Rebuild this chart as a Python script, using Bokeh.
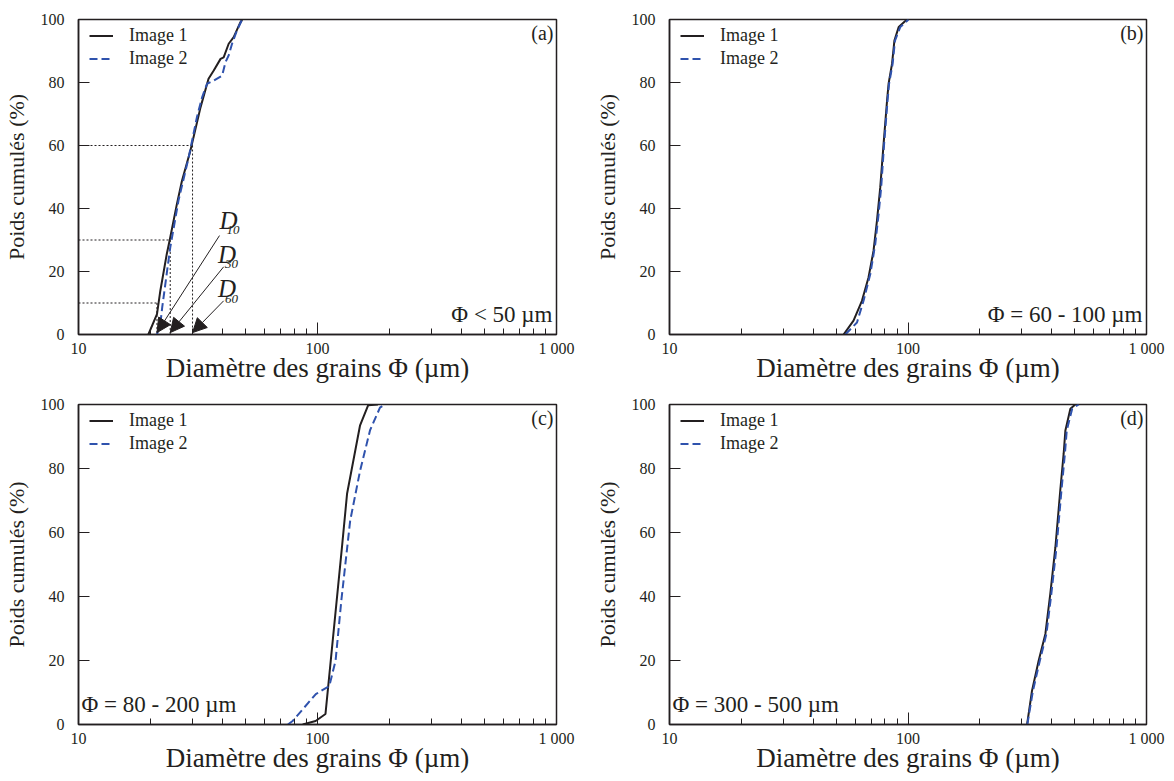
from bokeh.plotting import figure
from bokeh.layouts import column, row
from bokeh.models import FixedTicker, Legend, LegendItem, Label, Arrow, NormalHead
from bokeh.embed import file_html
from bokeh.resources import INLINE

# ---------------- data ----------------
# panel (a)  Phi < 50 um
a_img1_x = [19.6, 21.3, 22.0, 23.4, 24.2, 25.8, 27.1, 29.4, 32.4, 35.0, 36.8, 39.3, 40.5, 42.5, 44.6, 47.5, 48.4]
a_img1_y = [0.0, 6.5, 13.9, 25.5, 30.8, 41.4, 48.8, 58.4, 72.1, 81.2, 83.8, 87.5, 88.0, 92.3, 94.4, 99.0, 100.0]
a_img2_x = [21.3, 22.0, 22.4, 24.2, 26.2, 28.9, 31.3, 32.9, 34.5, 36.8, 39.9, 41.2, 42.5, 43.9, 46.0, 48.4]
a_img2_y = [0.0, 3.4, 8.6, 27.6, 42.5, 56.2, 69.0, 75.3, 79.6, 80.6, 82.2, 86.4, 88.6, 92.3, 96.5, 100.0]
# characteristic diameters D10, D30, D60
d_names = ["10", "30", "60"]
d_pct = [10, 30, 60]
d_diam = [21.3, 24.2, 30.0]
# annotation anchors for the D labels (data units)
d_label_x = [38.9, 38.3, 38.3]
d_label_y = [36.2, 25.4, 14.5]
d_arrow_x0 = [38.9, 40.5, 40.5]
d_arrow_y0 = [31.4, 21.5, 10.7]

# panel (b)  Phi = 60 - 100 um
b_img1_x = [53.7, 59.1, 64.1, 68.3, 71.7, 74.1, 76.5, 79.0, 81.7, 82.9, 85.7, 87.7, 91.4, 99.0]
b_img1_y = [0.0, 4.4, 10.7, 18.1, 26.6, 36.1, 46.7, 60.5, 74.3, 79.6, 85.9, 93.3, 97.6, 100.0]
b_img2_x = [54.6, 61.1, 65.1, 69.5, 72.9, 75.3, 77.2, 79.4, 82.1, 83.3, 86.2, 88.2, 92.8, 100.5]
b_img2_y = [0.0, 3.8, 10.7, 19.2, 28.7, 38.3, 46.7, 60.5, 74.3, 79.6, 85.9, 93.3, 97.6, 100.0]

# panel (c)  Phi = 80 - 200 um
c_img1_x = [86.7, 98.2, 108.0, 127.0, 133.0, 150.7, 163.0, 179.0]
c_img1_y = [0.0, 1.1, 3.3, 56.5, 72.2, 93.5, 99.8, 100.0]
c_img2_x = [75.2, 78.7, 98.4, 112.0, 119.0, 125.8, 137.0, 150.8, 166.0, 182.5, 191.0]
c_img2_y = [0.0, 1.1, 9.5, 12.0, 19.9, 38.7, 63.7, 79.4, 92.0, 99.0, 100.0]

# panel (d)  Phi = 300 - 500 um
d_img1_x = [315.7, 331.0, 353.0, 376.7, 395.0, 415.0, 435.0, 449.5, 457.0, 479.6, 503.0]
d_img1_y = [0.0, 10.5, 19.9, 28.3, 40.8, 55.4, 73.2, 84.7, 91.9, 98.7, 100.0]
d_img2_x = [316.5, 334.0, 357.0, 380.5, 399.0, 419.5, 440.0, 455.0, 463.0, 488.0, 519.6]
d_img2_y = [0.0, 10.5, 19.9, 28.3, 40.8, 55.4, 73.2, 84.7, 91.9, 98.7, 100.0]

x_major = [10, 100, 1000]
x_minor = [20, 30, 40, 50, 60, 70, 80, 90, 200, 300, 400, 500, 600, 700, 800, 900]
y_ticks = [0, 20, 40, 60, 80, 100]
x_labels = {10: "10", 100: "100", 1000: "1 000"}
legend_labels = ["Image 1", "Image 2"]
panel_tags = ["(a)", "(b)", "(c)", "(d)"]
phi_texts = ["\u03a6 < 50 \u00b5m", "\u03a6 = 60 - 100 \u00b5m", "\u03a6 = 80 - 200 \u00b5m", "\u03a6 = 300 - 500 \u00b5m"]
x_title = "Diam\u00e8tre des grains \u03a6 (\u00b5m)"
y_title = "Poids cumul\u00e9s (%)"

# ---------------- style ----------------
FONT = "Liberation Serif"
TXT = "#231f20"
BLACK = "#231f20"
BLUE = "#2f52ad"


def make_panel(w, h, bl, br, bt, bb):
    p = figure(width=w, height=h, x_axis_type="log", x_range=(10, 1000), y_range=(0, 100),
               output_backend="svg", toolbar_location=None,
               min_border_left=bl, min_border_right=br, min_border_top=bt, min_border_bottom=bb)
    p.xgrid.visible = False
    p.ygrid.visible = False
    p.outline_line_color = BLACK
    p.outline_line_width = 1.5
    p.background_fill_color = "white"
    p.border_fill_color = "white"
    xa = p.xaxis[0]
    xa.ticker = FixedTicker(ticks=x_major, minor_ticks=x_minor)
    xa.major_label_overrides = x_labels
    xa.major_tick_in = 12
    xa.major_tick_out = 0
    xa.minor_tick_in = 6
    xa.minor_tick_out = 0
    xa.major_tick_line_color = BLACK
    xa.minor_tick_line_color = BLACK
    xa.axis_line_color = BLACK
    xa.axis_line_width = 1.5
    xa.major_label_standoff = 5
    xa.axis_label = x_title
    xa.axis_label_standoff = -7
    xa.axis_label_text_font_size = "27px"
    ya = p.yaxis[0]
    ya.ticker = FixedTicker(ticks=y_ticks)
    ya.major_tick_in = 11
    ya.major_tick_out = 0
    ya.minor_tick_line_color = None
    ya.major_tick_line_color = BLACK
    ya.axis_line_color = BLACK
    ya.axis_line_width = 1.5
    ya.major_label_standoff = 14
    ya.axis_label = y_title
    ya.axis_label_standoff = 9
    ya.axis_label_text_font_size = "22px"
    for ax in (xa, ya):
        ax.major_label_text_font = FONT
        ax.major_label_text_font_size = "16px"
        ax.major_label_text_color = TXT
        ax.axis_label_text_font = FONT
        ax.axis_label_text_font_style = "normal"
        ax.axis_label_text_color = TXT
    return p


def add_curves(p, x1, y1, x2, y2, frame_h):
    r1 = p.line(x1, y1, line_color=BLACK, line_width=2)
    r2 = p.line(x2, y2, line_color=BLUE, line_width=2, line_dash="8 4")
    leg = Legend(items=[LegendItem(label=legend_labels[0], renderers=[r1]),
                        LegendItem(label=legend_labels[1], renderers=[r2])],
                 location=(11, frame_h - 50), margin=0, padding=0, spacing=2,
                 glyph_width=24, glyph_height=21, label_height=21, label_standoff=16,
                 label_text_font=FONT, label_text_font_size="18px", label_text_color=TXT,
                 border_line_color=None, background_fill_alpha=0)
    p.add_layout(leg, "center")


def add_tag(p, tag, phi, phi_right):
    p.add_layout(Label(x=1000, y=100, text=tag, text_align="right", text_baseline="top",
                       x_offset=-3, y_offset=-2, text_font=FONT, text_font_size="20px",
                       text_color=TXT))
    if phi_right:
        p.add_layout(Label(x=1000, y=0, text=phi, text_align="right", text_baseline="alphabetic",
                           x_offset=-4, y_offset=20, text_font=FONT, text_font_size="23px",
                           text_color=TXT))
    else:
        p.add_layout(Label(x=10, y=0, text=phi, text_align="left", text_baseline="alphabetic",
                           x_offset=3, y_offset=20, text_font=FONT, text_font_size="23px",
                           text_color=TXT))


# ---------------- panels ----------------
TOP_H, BOT_H = 394, 386
pa = make_panel(590, TOP_H, 78, 34, 19, 60)
pb = make_panel(582, TOP_H, 79, 26, 19, 60)
pc = make_panel(590, BOT_H, 74, 34, 10, 56)
pd = make_panel(582, BOT_H, 79, 26, 10, 56)

top_fh = TOP_H - 19 - 60
bot_fh = BOT_H - 10 - 56

# dotted construction lines in (a)
for dv, pc_ in zip(d_diam, d_pct):
    pa.line([10, dv], [pc_, pc_], line_color=BLACK, line_width=1, line_dash="2 2")
    pa.line([dv, dv], [pc_, 0], line_color=BLACK, line_width=1, line_dash="2 2")

add_curves(pa, a_img1_x, a_img1_y, a_img2_x, a_img2_y, top_fh)
add_curves(pb, b_img1_x, b_img1_y, b_img2_x, b_img2_y, top_fh)
add_curves(pc, c_img1_x, c_img1_y, c_img2_x, c_img2_y, bot_fh)
add_curves(pd, d_img1_x, d_img1_y, d_img2_x, d_img2_y, bot_fh)

# D labels and arrows
for name, dv, lx, ly, ax0, ay0 in zip(d_names, d_diam, d_label_x, d_label_y, d_arrow_x0, d_arrow_y0):
    pa.add_layout(Arrow(x_start=ax0, y_start=ay0, x_end=dv, y_end=0.6,
                        line_color=BLACK, line_width=1,
                        end=NormalHead(size=14, fill_color=BLACK, line_color=BLACK)))
    pa.add_layout(Label(x=lx, y=ly, text="D", text_font=FONT, text_font_size="25px",
                        text_font_style="italic", text_color=TXT, text_baseline="alphabetic"))
    pa.add_layout(Label(x=lx, y=ly, text=name, text_font=FONT, text_font_size="13px",
                        text_font_style="italic", text_color=TXT, text_baseline="alphabetic",
                        x_offset=7, y_offset=-10))

for p, tag, phi, right in zip([pa, pb, pc, pd], panel_tags, phi_texts, [True, True, False, False]):
    add_tag(p, tag, phi, right)

layout = column(row(pa, pb), row(pc, pd))
open("out.html", "w").write(file_html(layout, INLINE))
